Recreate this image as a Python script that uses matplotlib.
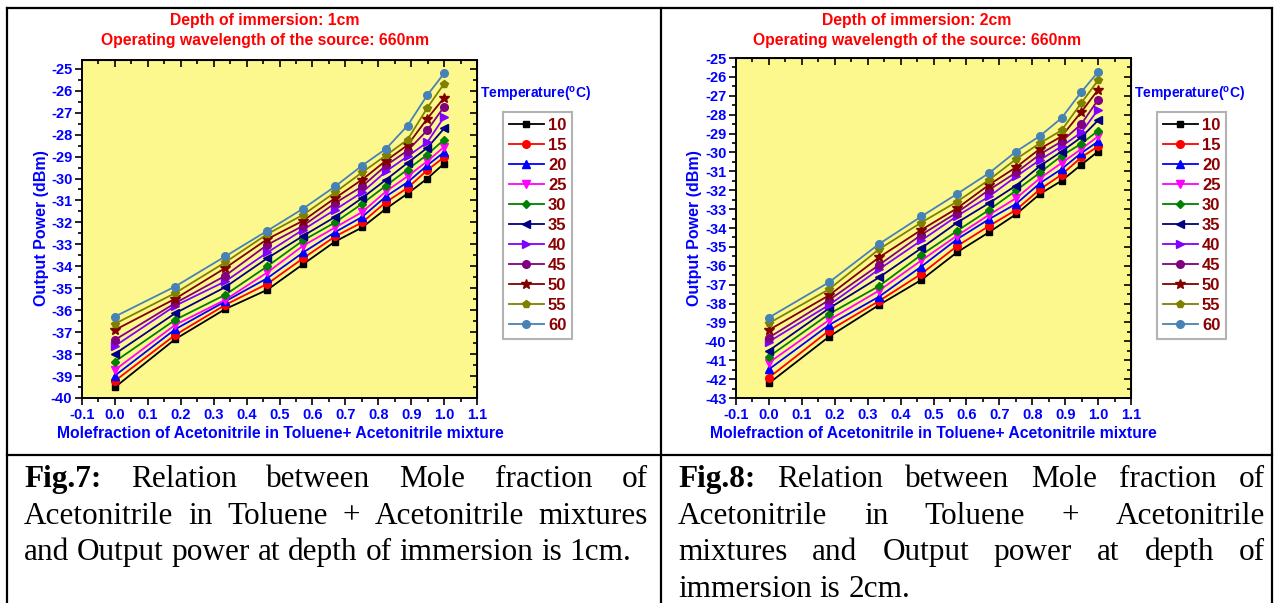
import matplotlib
matplotlib.use("Agg")
import matplotlib.pyplot as plt
from matplotlib.lines import Line2D
from matplotlib.ticker import MultipleLocator

W, H = 1275, 603

mole_fraction = [0.0, 0.183, 0.335, 0.463, 0.572, 0.669, 0.751, 0.824, 0.889, 0.949, 1.0]
temperatures = ["10", "15", "20", "25", "30", "35", "40", "45", "50", "55", "60"]

# output power (dBm) at depth 1cm, one row per temperature
power_1cm = [
    [-39.51, -37.32, -35.95, -35.07, -33.90, -32.87, -32.23, -31.37, -30.69, -30.00, -29.32],
    [-39.22, -37.13, -35.76, -34.80, -33.63, -32.64, -32.00, -31.07, -30.43, -29.62, -29.03],
    [-38.98, -36.87, -35.60, -34.54, -33.37, -32.44, -31.75, -30.81, -30.17, -29.40, -28.80],
    [-38.72, -36.67, -35.53, -34.28, -33.06, -32.23, -31.53, -30.58, -29.90, -29.21, -28.56],
    [-38.34, -36.44, -35.30, -34.00, -32.82, -32.00, -31.15, -30.32, -29.59, -28.91, -28.23],
    [-37.99, -36.14, -34.95, -33.63, -32.61, -31.75, -30.89, -30.05, -29.29, -28.60, -27.72],
    [-37.63, -35.80, -34.69, -33.37, -32.33, -31.42, -30.63, -29.67, -28.99, -28.35, -27.20],
    [-37.35, -35.68, -34.43, -33.02, -32.15, -31.12, -30.36, -29.40, -28.73, -27.80, -26.73],
    [-36.90, -35.48, -34.08, -32.76, -31.92, -30.89, -30.05, -29.18, -28.48, -27.27, -26.32],
    [-36.62, -35.22, -33.82, -32.53, -31.65, -30.63, -29.72, -28.94, -28.23, -26.78, -25.68],
    [-36.29, -34.92, -33.55, -32.38, -31.37, -30.36, -29.41, -28.64, -27.59, -26.20, -25.21],
]

# output power (dBm) at depth 2cm
power_2cm = [
    [-42.22, -39.75, -38.07, -36.75, -35.28, -34.22, -33.27, -32.19, -31.50, -30.65, -29.95],
    [-41.92, -39.43, -37.86, -36.43, -34.95, -33.89, -33.04, -31.94, -31.18, -30.26, -29.68],
    [-41.48, -39.13, -37.63, -36.04, -34.59, -33.53, -32.72, -31.62, -30.88, -30.03, -29.42],
    [-41.13, -38.87, -37.31, -35.72, -34.40, -33.30, -32.42, -31.36, -30.56, -29.82, -29.15],
    [-40.81, -38.55, -37.07, -35.42, -34.15, -33.04, -32.01, -31.06, -30.18, -29.54, -28.85],
    [-40.49, -38.25, -36.61, -35.07, -33.71, -32.68, -31.75, -30.71, -29.95, -29.20, -28.30],
    [-40.02, -38.07, -36.18, -34.66, -33.36, -32.33, -31.27, -30.39, -29.68, -28.94, -27.74],
    [-39.80, -37.81, -35.95, -34.36, -33.18, -31.98, -31.06, -30.09, -29.42, -28.50, -27.21],
    [-39.40, -37.56, -35.55, -34.10, -32.95, -31.71, -30.78, -29.80, -29.15, -27.86, -26.68],
    [-39.04, -37.24, -35.12, -33.71, -32.60, -31.45, -30.35, -29.50, -28.83, -27.38, -26.18],
    [-38.74, -36.87, -34.84, -33.39, -32.19, -31.09, -29.95, -29.12, -28.18, -26.80, -25.74],
]

colors = ["#000000", "#ff0000", "#0000ff", "#ff00ff", "#008000", "#000080",
          "#8000ff", "#800080", "#800000", "#808000", "#4682b4"]
markers = ["s", "o", "^", "v", "D", "<", ">", "o", "*", "p", "o"]
marker_sizes = [5, 5.5, 5.5, 5.5, 4.5, 5.5, 5.5, 5.5, 7, 6, 5.5]

caption_left = [
    ([("Fig.7:", "bold"), ("Relation", "normal"), ("between", "normal"), ("Mole", "normal"),
      ("fraction", "normal"), ("of", "normal")], True),
    ([(w, "normal") for w in "Acetonitrile in Toluene + Acetonitrile mixtures".split()], True),
    ([(w, "normal") for w in "and Output power at depth of immersion is 1cm.".split()], False),
]
caption_right = [
    ([("Fig.8:", "bold"), ("Relation", "normal"), ("between", "normal"), ("Mole", "normal"),
      ("fraction", "normal"), ("of", "normal")], True),
    ([(w, "normal") for w in "Acetonitrile in Toluene + Acetonitrile".split()], True),
    ([(w, "normal") for w in "mixtures and Output power at depth of".split()], True),
    ([(w, "normal") for w in "immersion is 2cm.".split()], False),
]

plt.rcParams["font.family"] = ["Liberation Sans", "DejaVu Sans"]
plt.rcParams["mathtext.fontset"] = "custom"
plt.rcParams["mathtext.rm"] = "Liberation Sans:bold"

fig = plt.figure(figsize=(W / 100, H / 100), dpi=100)
fig.patch.set_facecolor("white")


def fx(px):
    return px / W


def fy(py):
    return 1 - py / H


def draw_panel(box, values, ylim, title_depth, title_cx, ylabel_x, xlabel_cx, legend_x):
    """Draw one of the two yellow output-power charts."""
    left, top, right, bottom = box
    ax = fig.add_axes([fx(left), fy(bottom), fx(right) - fx(left), fy(top) - fy(bottom)])
    ax.set_facecolor("#fdf88e")
    lines = []
    for i in range(len(temperatures)):
        ln, = ax.plot(mole_fraction, values[i], color=colors[i], marker=markers[i],
                      markersize=marker_sizes[i], linewidth=1.3, markeredgecolor=colors[i],
                      label=temperatures[i])
        lines.append(ln)
    ax.set_xlim(-0.1, 1.1)
    ax.set_ylim(ylim)
    ax.xaxis.set_major_locator(MultipleLocator(0.1))
    ax.xaxis.set_minor_locator(MultipleLocator(0.05))
    ax.yaxis.set_major_locator(MultipleLocator(1))
    ax.yaxis.set_minor_locator(MultipleLocator(0.5))
    ax.xaxis.set_major_formatter(plt.FuncFormatter(lambda v, p: f"{v:.1f}"))
    ax.yaxis.set_major_formatter(plt.FuncFormatter(lambda v, p: f"{v:.0f}"))
    ax.tick_params(which="both", direction="out", top=False, right=False,
                   labelcolor="#0000ff", width=1.2)
    ax.tick_params(which="major", length=5, labelsize=10.5, pad=2)
    ax.tick_params(which="minor", length=3)
    for lab in ax.get_xticklabels() + ax.get_yticklabels():
        lab.set_fontweight("bold")
    # inward ticks on top and right
    sec = ax.secondary_xaxis("top")
    sec.xaxis.set_major_locator(MultipleLocator(0.1))
    sec.xaxis.set_minor_locator(MultipleLocator(0.05))
    sec.tick_params(which="both", direction="in", labeltop=False, width=1.2)
    sec.tick_params(which="major", length=5)
    sec.tick_params(which="minor", length=3)
    secy = ax.secondary_yaxis("right")
    secy.yaxis.set_major_locator(MultipleLocator(1))
    secy.yaxis.set_minor_locator(MultipleLocator(0.5))
    secy.tick_params(which="both", direction="in", labelright=False, width=1.2)
    secy.tick_params(which="major", length=5)
    secy.tick_params(which="minor", length=3)
    for s in ax.spines.values():
        s.set_linewidth(1.4)

    fig.text(fx(title_cx), fy(21), "Depth of immersion: " + title_depth, color="#ff0000",
             fontsize=11.3, fontweight="bold", ha="center", va="center")
    fig.text(fx(title_cx), fy(41), "Operating wavelength of the source: 660nm", color="#ff0000",
             fontsize=11.3, fontweight="bold", ha="center", va="center")
    fig.text(fx(ylabel_x), fy(228), "Output Power (dBm)", color="#0000ff", fontsize=11.5,
             fontweight="bold", rotation=90, ha="center", va="center")
    fig.text(fx(xlabel_cx), fy(434), "Molefraction of Acetonitrile in Toluene+ Acetonitrile mixture",
             color="#0000ff", fontsize=11.3, fontweight="bold", ha="center", va="center")
    fig.text(fx(legend_x - 23), fy(94), r"Temperature($^\mathrm{o}$C)", color="#0000ff",
             fontsize=10, fontweight="bold", ha="left", va="center")

    leg = ax.legend(handles=lines, loc="upper left",
                    bbox_to_anchor=(fx(legend_x), fy(112)), bbox_transform=fig.transFigure,
                    fontsize=12, frameon=True, fancybox=False, handlelength=2.1,
                    handletextpad=0.25, labelspacing=0.3, borderpad=0.35, borderaxespad=0)
    leg.get_frame().set_edgecolor("#a0a0a0")
    leg.get_frame().set_linewidth(1.5)
    for t in leg.get_texts():
        t.set_color("#8b0000")
        t.set_fontweight("bold")
    return ax


draw_panel((82, 60, 477, 398), power_1cm, (-40, -24.6), "1cm", 265, 42, 280, 503)
draw_panel((736, 58, 1131, 398), power_2cm, (-43, -25), "2cm", 917, 695, 933, 1157)

# table borders
border = dict(color="black", linewidth=1.6, transform=fig.transFigure)
fig.add_artist(Line2D([fx(7), fx(1272)], [fy(8), fy(8)], **border))
fig.add_artist(Line2D([fx(7), fx(1272)], [fy(455), fy(455)], **border))
fig.add_artist(Line2D([fx(7), fx(7)], [fy(8), fy(603)], **border))
fig.add_artist(Line2D([fx(661), fx(661)], [fy(8), fy(603)], **border))
fig.add_artist(Line2D([fx(1272), fx(1272)], [fy(8), fy(603)], **border))

# justified captions
renderer = fig.canvas.get_renderer()
cap_size = 22.5
space_px = 0.25 * cap_size * 100 / 72


def draw_caption(lines, x_left, x_right, first_baseline, step):
    for k, (words, justify) in enumerate(lines):
        y = first_baseline + k * step
        texts = []
        for word, weight in words:
            t = fig.text(0, fy(y), word, fontsize=cap_size, fontweight=weight,
                         family="Liberation Serif", va="baseline", ha="left")
            texts.append(t)
        widths = [t.get_window_extent(renderer).width for t in texts]
        if justify and len(texts) > 1:
            gap = (x_right - x_left - sum(widths)) / (len(texts) - 1)
        else:
            gap = space_px
        x = x_left
        for t, w in zip(texts, widths):
            t.set_x(fx(x))
            x += w + gap


draw_caption(caption_left, 24, 648, 487, 36.7)
draw_caption(caption_right, 678, 1265, 487, 36.7)

fig.savefig("out.png", dpi=100)
